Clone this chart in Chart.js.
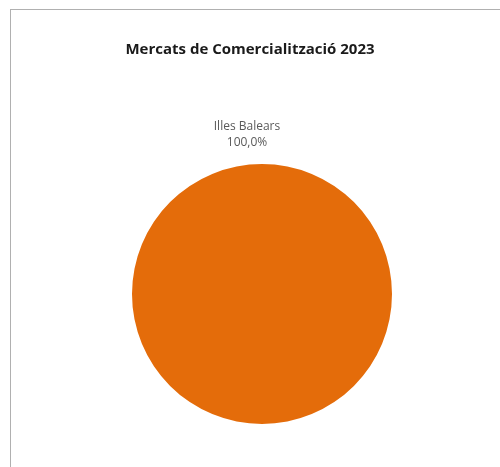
<!DOCTYPE html>
<html>
<head>
<meta charset="utf-8">
<script src="https://cdn.jsdelivr.net/npm/chart.js@4"></script>
<style>
  html, body { margin: 0; padding: 0; background: #fff; }
  #wrap { position: relative; width: 500px; height: 467px; }
  #frame { position: absolute; left: 10px; top: 9px; right: 0; bottom: 0;
           border-left: 1px solid #b0b0b0; border-top: 1px solid #b0b0b0; }
  #chart { position: absolute; left: 0; top: 0; }
</style>
</head>
<body>
<div id="wrap">
  <div id="frame"></div>
  <canvas id="chart" width="500" height="467"></canvas>
</div>
<script>
// dades del grafic
const titol = 'Mercats de Comercialització 2023';
const mercats = ['Illes Balears'];
const percentatges = [100.0];
const colors = ['#E46C0A'];

// titol i etiquetes de dades dibuixats a ma
const textPlugin = {
    id: 'textPlugin',
    afterDraw(chart) {
        const ctx = chart.ctx;
        ctx.save();
        ctx.textAlign = 'center';
        ctx.textBaseline = 'alphabetic';
        ctx.fillStyle = '#1a1a1a';
        ctx.font = 'bold 15px "Open Sans"';
        ctx.fillText(titol, chart.width / 2, 54);

        const meta = chart.getDatasetMeta(0);
        meta.data.forEach((arc, i) => {
            const top = arc.y - arc.outerRadius;
            ctx.fillStyle = '#595959';
            ctx.font = '12px "Open Sans"';
            ctx.fillText(mercats[i], arc.x - 15, top - 34);
            ctx.fillText(percentatges[i].toFixed(1).replace('.', ',') + '%', arc.x - 15, top - 18);
        });
        ctx.restore();
    }
};

new Chart(document.getElementById('chart').getContext('2d'), {
    type: 'pie',
    data: {
        labels: mercats,
        datasets: [{
            data: percentatges,
            backgroundColor: colors,
            borderWidth: 0
        }]
    },
    options: {
        responsive: false,
        animation: false,
        layout: { padding: { left: 24, right: 0, top: 164, bottom: 43 } },
        plugins: {
            legend: { display: false },
            title: { display: false },
            tooltip: { enabled: false }
        }
    },
    plugins: [textPlugin]
});
</script>
</body>
</html>
